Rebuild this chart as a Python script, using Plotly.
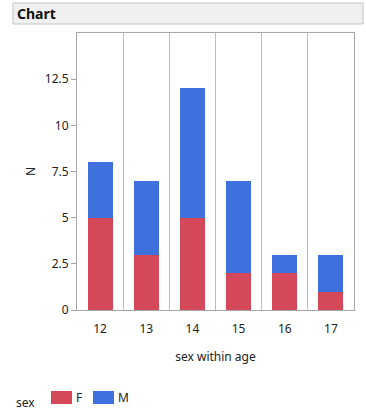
import plotly.graph_objects as go

ages = ["12", "13", "14", "15", "16", "17"]
female = [5, 3, 5, 2, 2, 1]
male = [3, 4, 7, 5, 1, 2]
series_names = ["F", "M"]
series_colors = ["#D5485A", "#3F71DE"]

W, H = 366, 419
L, R, T, B = 77, 12, 33, 109
pw = W - L - R
ph = H - T - B

def px(x):
    return (x - L) / pw

def py(y):
    return (H - B - y) / ph

FONT = "Noto Sans"

fig = go.Figure()
for name, vals, col in zip(series_names, [female, male], series_colors):
    fig.add_trace(go.Bar(x=ages, y=vals, name=name, marker=dict(color=col, line=dict(width=0)),
                         width=0.54, showlegend=False))

shapes = [dict(type="rect", xref="paper", yref="paper",
               x0=px(13), x1=px(363), y0=py(24), y1=py(3),
               fillcolor="#F0F0F0", line=dict(color="#C4C4C4", width=1), layer="below")]
annotations = [dict(text="<b>Chart</b>", xref="paper", yref="paper", x=px(15), y=py(13.5),
                    xanchor="left", yanchor="middle", showarrow=False,
                    font=dict(family=FONT, size=14, color="#111")),
               dict(text="sex", xref="paper", yref="paper", x=px(14), y=py(402),
                    xanchor="left", yanchor="middle", showarrow=False,
                    font=dict(family=FONT, size=12, color="#222"))]
# manual legend key
for i, (name, col) in enumerate(zip(series_names, series_colors)):
    x0 = 51 + 42 * i
    shapes.append(dict(type="rect", xref="paper", yref="paper",
                       x0=px(x0), x1=px(x0 + 21), y0=py(404), y1=py(391),
                       fillcolor=col, line=dict(width=0)))
    annotations.append(dict(text=name, xref="paper", yref="paper", x=px(x0 + 23), y=py(397.5),
                            xanchor="left", yanchor="middle", showarrow=False,
                            font=dict(family=FONT, size=12, color="#222")))

fig.update_layout(
    width=W, height=H,
    margin=dict(l=L, r=R, t=T, b=B, autoexpand=False),
    barmode="stack",
    plot_bgcolor="white", paper_bgcolor="white",
    font=dict(family=FONT, size=12, color="#222"),
    showlegend=False,
    shapes=shapes,
    annotations=annotations,
)
fig.update_xaxes(
    type="category", tickson="boundaries", showgrid=True, gridcolor="#BDBDBD", gridwidth=1,
    ticks="", ticklabelstandoff=8,
    showline=True, linecolor="#A8A8A8", mirror=True,
    title=dict(text="sex within age", standoff=16, font=dict(size=12)),
    tickfont=dict(size=12),
)
fig.update_yaxes(
    range=[0, 15], tickvals=[0, 2.5, 5, 7.5, 10, 12.5], ticktext=["0", "2.5", "5", "7.5", "10", "12.5"],
    showgrid=False, zeroline=False, ticks="outside", ticklen=5, tickcolor="#A8A8A8",
    showline=True, linecolor="#A8A8A8", mirror=True,
    title=dict(text="N", standoff=6, font=dict(size=12)),
    tickfont=dict(size=12),
)

fig.write_html("out.html", config={"displayModeBar": False},
               post_script="document.body.style.margin='0';document.body.style.overflow='hidden';")
